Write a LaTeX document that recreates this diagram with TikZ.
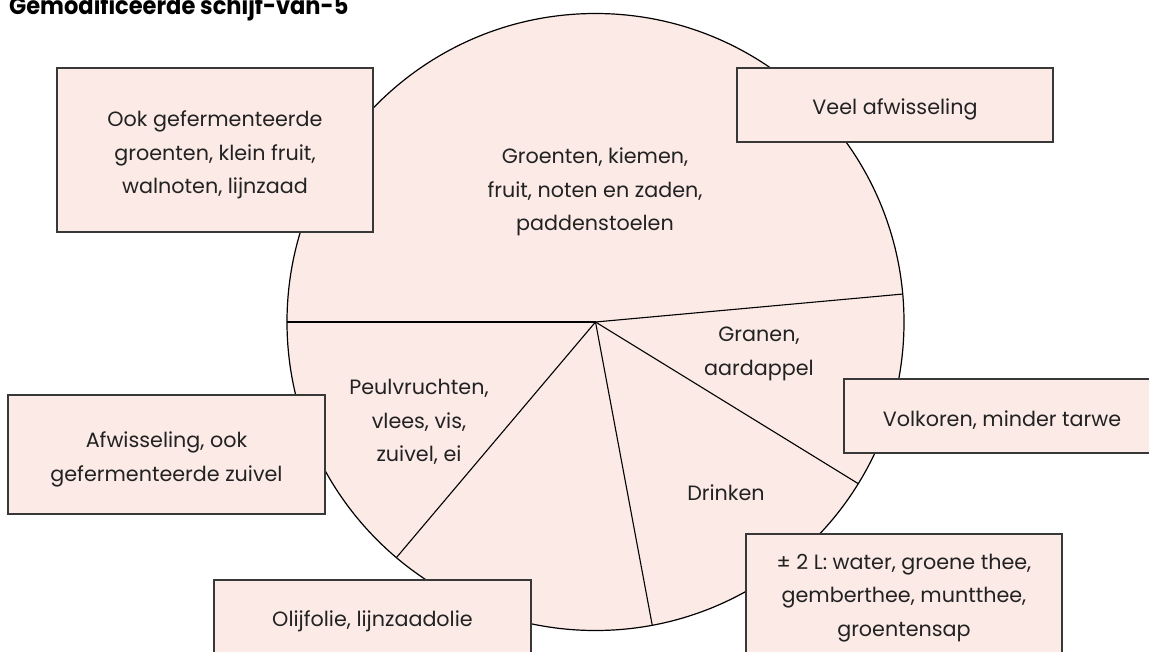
\documentclass[tikz,border=0pt]{standalone}
\usepackage{fontspec}
\setmainfont{Poppins}
\definecolor{pinkfill}{HTML}{FBEAE6}
\definecolor{boxline}{HTML}{383838}
\definecolor{txtc}{HTML}{222222}
\begin{document}
\begin{tikzpicture}[x=1pt,y=-1pt,
  lbl/.style={font=\fontsize{20.7}{33.5}\selectfont, text=txtc, align=center, inner sep=0pt},
  box/.style={draw=boxline, line width=1.4pt, fill=pinkfill, inner sep=0pt},
  rim/.style={draw=black, line width=1.2pt},
  spoke/.style={draw=black, line width=1.1pt},
  ttl/.style={font=\fontsize{24.5}{26}\selectfont\bfseries, text=black, inner sep=0pt, anchor=base west, xscale=0.92, transform shape}
]
\useasboundingbox (0,0) rectangle (1149,651);
% pie
\coordinate (c) at (595.5,322);
\fill[pinkfill] (c) circle[radius=308.5pt];
\draw[rim] (c) circle[radius=308.5pt];
\coordinate (r1) at ([shift={(180:308.5pt)}]c);
\coordinate (r2) at ([shift={(5.2:308.5pt)}]c);
\coordinate (r3) at ([shift={(-31.6:308.5pt)}]c);
\coordinate (r4) at ([shift={(-79.4:308.5pt)}]c);
\coordinate (r5) at ([shift={(-130.2:308.5pt)}]c);
\draw[spoke] (c) -- (r1);
\draw[spoke] (c) -- (r2);
\draw[spoke] (c) -- (r3);
\draw[spoke] (c) -- (r4);
\draw[spoke] (c) -- (r5);
% segment labels
\node[lbl] (sg) at (595,192) {Groenten, kiemen,\\fruit, noten en zaden,\\paddenstoelen};
\node[lbl] (sk) at (759,354) {Granen,\\aardappel};
\node[lbl] (sd) at (726,493) {Drinken};
\node[lbl] (sp) at (419,422) {Peulvruchten,\\vlees, vis,\\zuivel, ei};
% boxes
\node[box, minimum width=316pt, minimum height=164pt] (b1) at (215,150) {};
\node[lbl] (t1) at ([yshift=-5pt]b1.center) {Ook gefermenteerde\\groenten, klein fruit,\\walnoten, lijnzaad};
\node[box, minimum width=316pt, minimum height=74pt] (b2) at (895,105) {};
\node[lbl] (t2) at ([yshift=-4pt]b2.center) {Veel afwisseling};
\node[box, minimum width=316pt, minimum height=74pt] (b3) at (1002,416) {};
\node[lbl] (t3) at ([yshift=-4pt]b3.center) {Volkoren, minder tarwe};
\node[box, minimum width=317pt, minimum height=119pt] (b4) at (166.5,454.5) {};
\node[lbl] (t4) at ([yshift=-5pt]b4.center) {Afwisseling, ook\\gefermenteerde zuivel};
\node[box, minimum width=317pt, minimum height=80pt] (b5) at (372.5,620) {};
\node[lbl] (t5) at ([yshift=-1pt]b5.center) {Olijfolie, lijnzaadolie};
\node[box, minimum width=316pt, minimum height=126pt] (b6) at (904,597) {};
\node[lbl] (t6) at ([yshift=-1pt]b6.center) {± 2 L: water, groene thee,\\gemberthee, muntthee,\\groentensap};
% title
\node[ttl] (title) at (9,14.5) {Gemodificeerde schijf-van-5};
\end{tikzpicture}
\end{document}
